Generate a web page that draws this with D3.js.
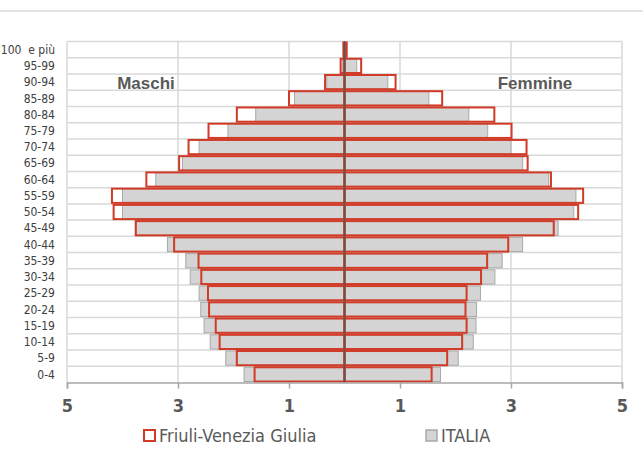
<!DOCTYPE html>
<html>
<head>
<meta charset="utf-8">
<script src="https://cdn.jsdelivr.net/npm/d3@7"></script>
<style>
  body { margin: 0; background: #fff; }
  svg { display: block; }
  .narrow { font-family: "Liberation Sans Narrow", "Arial Narrow", "DejaVu Sans Condensed", sans-serif; white-space: pre; }
</style>
</head>
<body>
<svg id="chart" width="643" height="457"></svg>
<script>
// age classes, bottom to top
const ages = ['0-4', '5-9', '10-14', '15-19', '20-24', '25-29', '30-34', '35-39', '40-44', '45-49',
  '50-54', '55-59', '60-64', '65-69', '70-74', '75-79', '80-84', '85-89', '90-94', '95-99', '100  e più']

// percent of population, Friuli-Venezia Giulia
const fvgMaschi = [1.62, 1.94, 2.25, 2.32, 2.44, 2.46, 2.58, 2.63, 3.07, 3.76,
  4.16, 4.19, 3.57, 2.98, 2.81, 2.45, 1.94, 1.0, 0.35, 0.07, 0.02]
const fvgFemmine = [1.57, 1.85, 2.12, 2.2, 2.18, 2.2, 2.46, 2.57, 2.95, 3.77,
  4.21, 4.3, 3.72, 3.3, 3.28, 3.01, 2.7, 1.76, 0.92, 0.3, 0.04]

// percent of population, Italia
const itaMaschi = [1.81, 2.14, 2.42, 2.53, 2.59, 2.62, 2.78, 2.86, 3.19, 3.77,
  4.0, 4.0, 3.4, 2.92, 2.62, 2.1, 1.6, 0.9, 0.32, 0.04, 0.01]
const itaFemmine = [1.73, 2.05, 2.32, 2.37, 2.38, 2.45, 2.71, 2.84, 3.21, 3.85,
  4.13, 4.17, 3.68, 3.21, 3.0, 2.58, 2.24, 1.52, 0.78, 0.22, 0.02]

const xTicks = [-5, -3, -1, 1, 3, 5]

const svg = d3.select('#chart')

const x = d3.scaleLinear().domain([-5, 5]).range([67, 622])
const y = d3.scaleBand().domain(ages.slice().reverse()).range([41.5, 382.5]).padding(0)

// top rule
svg.append('line')
  .attr('x1', 0).attr('x2', 643).attr('y1', 11).attr('y2', 11)
  .attr('stroke', '#d9d9d9').attr('stroke-width', 1.5)

// grid
let grid = svg.append('g').attr('class', 'grid')
grid.selectAll('line.h')
  .data(ages)
  .enter().append('line')
  .attr('x1', x(-5)).attr('x2', x(5))
  .attr('y1', d => y(d)).attr('y2', d => y(d))
  .attr('stroke', '#d9d9d9').attr('stroke-width', 1.5)
grid.selectAll('line.v')
  .data(xTicks)
  .enter().append('line')
  .attr('x1', d => x(d)).attr('x2', d => x(d))
  .attr('y1', y.range()[0]).attr('y2', y.range()[1])
  .attr('stroke', '#d9d9d9').attr('stroke-width', 1.5)

const rows = ages.map((age, i) => ({
  age,
  itaM: itaMaschi[i], itaF: itaFemmine[i],
  fvgM: fvgMaschi[i], fvgF: fvgFemmine[i]
}))

function bars(cls, getM, getF, style) {
  let g = svg.append('g').attr('class', cls)
  let sel = g.selectAll('rect.m')
    .data(rows)
    .enter().append('rect')
    .attr('x', d => x(-getM(d)))
    .attr('width', d => x(0) - x(-getM(d)))
  style(sel)
  let sel2 = g.selectAll('rect.f')
    .data(rows)
    .enter().append('rect')
    .attr('x', x(0))
    .attr('width', d => x(getF(d)) - x(0))
  style(sel2)
}

bars('italia', d => d.itaM, d => d.itaF, s => s
  .attr('y', d => y(d.age) + 1)
  .attr('height', y.bandwidth() - 2)
  .attr('fill', '#d4d4d4')
  .attr('stroke', '#a9a9a9')
  .attr('stroke-width', 1))

bars('fvg', d => d.fvgM, d => d.fvgF, s => s
  .attr('y', d => y(d.age) + 1)
  .attr('height', y.bandwidth() - 2)
  .attr('fill', 'none')
  .attr('stroke', '#d13a26')
  .attr('stroke-width', 2))

// centre line
svg.append('line')
  .attr('x1', x(0)).attr('x2', x(0))
  .attr('y1', y.range()[0]).attr('y2', y.range()[1])
  .attr('stroke', '#6b5050').attr('stroke-width', 2)

// x axis
let xAxis = svg.append('g')
  .attr('transform', `translate(0,${y.range()[1]})`)
  .call(d3.axisBottom(x).tickValues(xTicks).tickFormat(d => Math.abs(d)).tickSize(6).tickPadding(11))
xAxis.select('.domain').attr('stroke', '#a6a6a6').attr('stroke-width', 1.5)
xAxis.selectAll('.tick line').attr('stroke', '#a6a6a6').attr('stroke-width', 1.5)
xAxis.selectAll('.tick text')
  .attr('class', 'narrow')
  .attr('fill', '#595959')
  .attr('font-size', 18)
  .attr('font-weight', 'bold')

// y labels
svg.append('g').selectAll('text')
  .data(ages)
  .enter().append('text')
  .attr('class', 'narrow')
  .attr('x', 55)
  .attr('y', d => y(d) + y.bandwidth() / 2)
  .attr('dy', '0.35em')
  .attr('text-anchor', 'end')
  .attr('font-size', 12)
  .attr('fill', '#404040')
  .text(d => d)

// sex labels
svg.append('text')
  .attr('x', 146).attr('y', 89)
  .attr('text-anchor', 'middle')
  .attr('font-family', 'Liberation Sans, Arial, sans-serif')
  .attr('font-weight', 'bold').attr('font-size', 17)
  .attr('fill', '#595959')
  .text('Maschi')
svg.append('text')
  .attr('x', 535).attr('y', 89)
  .attr('text-anchor', 'middle')
  .attr('font-family', 'Liberation Sans, Arial, sans-serif')
  .attr('font-weight', 'bold').attr('font-size', 17)
  .attr('fill', '#595959')
  .text('Femmine')

// legend
const legend = [
  { name: 'Friuli-Venezia Giulia', x: 143, fill: '#fff', stroke: '#d13a26', sw: 2 },
  { name: 'ITALIA', x: 425, fill: '#d4d4d4', stroke: '#a9a9a9', sw: 1.5 }
]
let lg = svg.append('g').selectAll('g')
  .data(legend)
  .enter().append('g')
  .attr('transform', d => `translate(${d.x},430)`)
lg.append('rect')
  .attr('x', 1).attr('y', 0).attr('width', 11).attr('height', 11)
  .attr('fill', d => d.fill).attr('stroke', d => d.stroke).attr('stroke-width', d => d.sw)
lg.append('text')
  .attr('class', 'narrow')
  .attr('x', 16).attr('y', 6)
  .attr('dy', '0.35em')
  .attr('font-size', 18)
  .attr('fill', '#595959')
  .text(d => d.name)
</script>
</body>
</html>
